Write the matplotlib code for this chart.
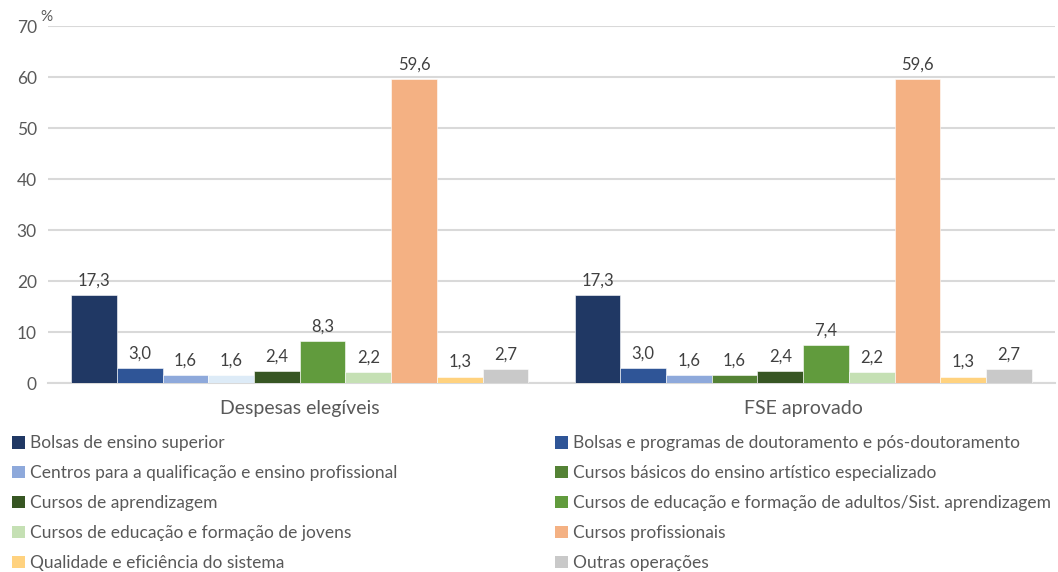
import numpy as np
import matplotlib.pyplot as plt
from matplotlib.patches import Patch

plt.rcParams['font.family'] = ['Lato', 'DejaVu Sans']

grupos = ['Despesas elegíveis', 'FSE aprovado']
series = ['Bolsas de ensino superior',
          'Bolsas e programas de doutoramento e pós-doutoramento',
          'Centros para a qualificação e ensino profissional',
          'Cursos básicos do ensino artístico especializado',
          'Cursos de aprendizagem',
          'Cursos de educação e formação de adultos/Sist. aprendizagem',
          'Cursos de educação e formação de jovens',
          'Cursos profissionais',
          'Qualidade e eficiência do sistema',
          'Outras operações']
despesas = [17.3, 3.0, 1.6, 1.6, 2.4, 8.3, 2.2, 59.6, 1.3, 2.7]
fse = [17.3, 3.0, 1.6, 1.6, 2.4, 7.4, 2.2, 59.6, 1.3, 2.7]

cores = ['#203864', '#2F5597', '#8EA9DB', '#548235', '#375623',
         '#619B3D', '#C5E0B4', '#F4B183', '#FFD27F', '#C9C9C9']
# the 4th bar of the first group is drawn in a pale blue in the original
cores_g1 = list(cores)
cores_g1[3] = '#DDEBF7'

txt = '#595959'

fig = plt.figure(figsize=(10.58, 5.72), dpi=100)
ax = fig.add_axes([0.0454, 0.330, 0.9516, 0.6245])

x = np.arange(len(grupos))
n = len(series)
w = 0.908 / n
valores = [despesas, fse]
for i in range(n):
    pos = x - 0.454 + w * (i + 0.5)
    vals = [valores[0][i], valores[1][i]]
    cs = [cores_g1[i], cores[i]]
    ax.bar(pos, vals, width=w, color=cs, edgecolor='white', linewidth=0.4, zorder=3)
    for p, v in zip(pos, vals):
        ax.text(p, v + 1.3, f'{v:.1f}'.replace('.', ','), ha='center', va='bottom',
                fontsize=12, color='#404040')

ax.set_xlim(-0.5, 1.5)
ax.set_ylim(0, 70)
ax.set_yticks(range(0, 71, 10))
ax.yaxis.grid(True, color='#D9D9D9', linewidth=1.5, zorder=0)
ax.set_axisbelow(True)
for s in ['top', 'right', 'left']:
    ax.spines[s].set_visible(False)
ax.spines['bottom'].set_color('#D9D9D9')
ax.spines['bottom'].set_linewidth(1.5)
ax.tick_params(axis='y', length=0, labelsize=12.5, labelcolor=txt, pad=8)
ax.tick_params(axis='x', length=0, labelsize=14, labelcolor=txt, pad=12)
ax.set_xticks(x)
ax.set_xticklabels(grupos)
ax.text(-0.008, 70.3, '%', transform=ax.get_yaxis_transform(), ha='left', va='bottom',
        fontsize=11, color=txt)

handles = [Patch(facecolor=c) for c in cores]
kw = dict(frameon=False, fontsize=12.5, labelcolor=txt, handlelength=0.72, handleheight=0.72,
          handletextpad=0.3, labelspacing=0.8, loc='upper left')
fig.legend(handles[0::2], series[0::2], bbox_to_anchor=(-0.003, 0.266), **kw)
fig.legend(handles[1::2], series[1::2], bbox_to_anchor=(0.510, 0.266), **kw)

fig.savefig('out.png', dpi=100)
